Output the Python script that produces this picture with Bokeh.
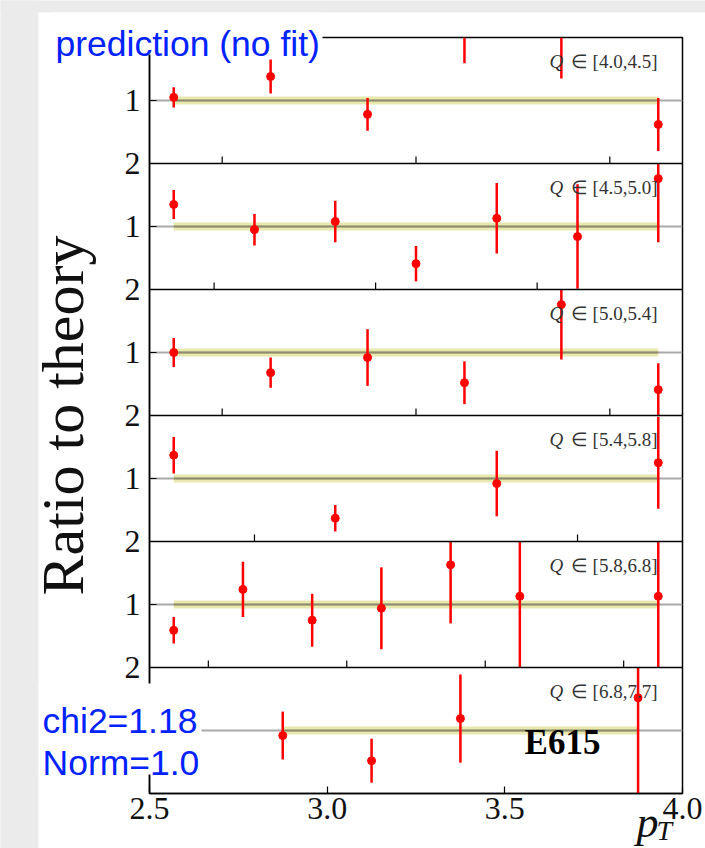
import numpy as np
from bokeh.plotting import figure
from bokeh.models import Range1d, FixedTicker, Span
from bokeh.core.properties import value
from bokeh.embed import file_html
from bokeh.resources import INLINE

# ---------------- data ----------------
q_bins = ["[4.0,4.5]", "[4.5,5.0]", "[5.0,5.4]", "[5.4,5.8]", "[5.8,6.8]", "[6.8,7.7]"]

pt_1 = [0.375, 0.625, 0.875, 1.125, 1.375, 1.625]
ratio_1 = [1.05, 1.38, 0.78, 2.30, 2.20, 0.62]
err_1 = [0.16, 0.27, 0.26, 0.71, 0.85, 0.42]

pt_2 = [0.375, 0.625, 0.875, 1.125, 1.375, 1.625, 1.875]
ratio_2 = [1.35, 0.95, 1.08, 0.41, 1.13, 0.84, 1.76]
err_2 = [0.23, 0.25, 0.33, 0.28, 0.56, 0.83, 1.01]

pt_3 = [0.375, 0.625, 0.875, 1.125, 1.375, 1.625]
ratio_3 = [1.00, 0.68, 0.92, 0.52, 1.76, 0.41]
err_3 = [0.23, 0.24, 0.45, 0.34, 0.87, 0.42]

pt_4 = [0.375, 0.625, 0.875, 1.125]
ratio_4 = [1.37, 0.37, 0.92, 1.25]
err_4 = [0.29, 0.21, 0.52, 0.73]

pt_5 = [0.375, 0.625, 0.875, 1.125, 1.375, 1.625, 2.125]
ratio_5 = [0.59, 1.24, 0.75, 0.94, 1.63, 1.13, 1.13]
err_5 = [0.21, 0.44, 0.42, 0.65, 0.93, 1.30, 1.40]

pt_6 = [2.875, 3.125, 3.375, 3.875]
ratio_6 = [0.92, 0.52, 1.19, 1.52]
err_6 = [0.38, 0.35, 0.70, 1.60]

theory_ratio = 1.0
theory_unc = 0.065
x_limits_last = (2.5, 4.0)
x_ticks_last = [2.5, 3.0, 3.5, 4.0]
y_limits = (0.0, 2.0)
chi2_text = "chi2=1.18"
norm_text = "Norm=1.0"
title_text = "prediction (no fit)"
exp_text = "E615"
y_label = "Ratio to theory"

panels = [
    (pt_1, ratio_1, err_1),
    (pt_2, ratio_2, err_2),
    (pt_3, ratio_3, err_3),
    (pt_4, ratio_4, err_4),
    (pt_5, ratio_5, err_5),
    (pt_6, ratio_6, err_6),
]
n = len(panels)
span_y = y_limits[1] - y_limits[0]

# ---------------- figure ----------------
W, H = 705, 848
FL, FR, FT, FB = 149, 682, 37, 793
YMAX = n * span_y
p = figure(width=W, height=H, output_backend="svg", toolbar_location=None,
           x_range=Range1d(*x_limits_last), y_range=Range1d(0, YMAX),
           min_border_left=FL, min_border_right=W - FR, min_border_top=FT,
           min_border_bottom=H - FB)
p.grid.visible = False
p.outline_line_color = "black"
p.outline_line_width = 1.5
p.background_fill_color = "white"
p.border_fill_color = "white"


def px(X, Y):
    """page pixel -> default data coordinates (for text placement)"""
    xa, xb = x_limits_last
    return xa + (X - FL) / (FR - FL) * (xb - xa), (FB - Y) / (FB - FT) * YMAX


serif = "Liberation Serif"
sans = "Liberation Sans"

# axes
p.xaxis.ticker = FixedTicker(ticks=x_ticks_last)
p.xaxis.major_label_overrides = {t: f"{t:.1f}" for t in x_ticks_last}
p.yaxis.ticker = FixedTicker(ticks=list(range(1, n * 2 + 1)))
p.yaxis.major_label_overrides = {i: ("1" if i % 2 else "2") for i in range(1, n * 2 + 1)}
for ax in (p.xaxis[0], p.yaxis[0]):
    ax.major_tick_in = 7
    ax.major_tick_out = 0
    ax.minor_tick_in = 0
    ax.minor_tick_out = 0
    ax.axis_line_width = 1.5
    ax.major_tick_line_width = 1.2
    ax.major_label_text_font = serif
    ax.major_label_text_font_size = "32px"
    ax.major_label_text_color = "#111111"
p.xaxis.major_label_standoff = 4
p.yaxis.major_label_standoff = 9
p.yaxis.axis_label = y_label
p.yaxis.axis_label_text_font = serif
p.yaxis.axis_label_text_font_size = "60px"
p.yaxis.axis_label_text_font_style = "normal"
p.yaxis.axis_label_text_color = "#111111"
p.yaxis.axis_label_standoff = 26

for k, (xs, ys, es) in enumerate(panels):
    xs = np.asarray(xs, float)
    ys = np.asarray(ys, float)
    es = np.asarray(es, float)
    if k == n - 1:
        lo, hi = x_limits_last
    else:
        d = xs.max() - xs.min()
        lo, hi = xs.min() - 0.05 * d, xs.max() + 0.05 * d
    xr, yr = f"x{k}", f"y{k}"
    p.extra_x_ranges[xr] = Range1d(lo, hi)
    off = (n - 1 - k) * span_y
    p.extra_y_ranges[yr] = Range1d(y_limits[0] - off, y_limits[0] - off + YMAX)

    # theory line (full width) and band
    p.segment(x0=[lo], y0=[theory_ratio], x1=[hi], y1=[theory_ratio],
              line_color="#a9a9a9", line_width=2.2, x_range_name=xr, y_range_name=yr)
    bx = [xs.min(), xs.max()]
    p.varea(x=bx, y1=[theory_ratio - theory_unc] * 2, y2=[theory_ratio + theory_unc] * 2,
            fill_color="#d9d97a", fill_alpha=0.6, x_range_name=xr, y_range_name=yr)
    p.segment(x0=[bx[0]], y0=[theory_ratio], x1=[bx[1]], y1=[theory_ratio],
              line_color="#8c8c6c", line_width=2.2, x_range_name=xr, y_range_name=yr)

    # inner bottom ticks for upper panels
    if k < n - 1:
        tks = np.arange(np.ceil(lo / 0.5) * 0.5, hi, 0.5)
        tl = span_y * 7 / ((FB - FT) / n)
        p.segment(x0=tks, y0=[y_limits[0]] * len(tks), x1=tks, y1=[y_limits[0] + tl] * len(tks),
                  line_color="black", line_width=1.2, x_range_name=xr, y_range_name=yr)
        p.add_layout(Span(location=off, dimension="width", line_color="black", line_width=1.5))

    # data with error bars (clipped to the panel)
    y0 = np.clip(ys - es, *y_limits)
    y1 = np.clip(ys + es, *y_limits)
    p.segment(x0=xs, y0=y0, x1=xs, y1=y1, line_color="red", line_width=2.5,
              x_range_name=xr, y_range_name=yr)
    inside = (ys >= y_limits[0]) & (ys <= y_limits[1])
    p.scatter(x=xs[inside], y=ys[inside], size=8, color="red",
              x_range_name=xr, y_range_name=yr)

    # Q label
    top_px = FT + k * (FB - FT) / n
    qx, qy = px(549, top_px + 24)
    rx, _ = px(657, 0)
    p.text(x=[qx], y=[qy], text=["Q"], text_font=value(serif), text_font_style="italic",
           text_font_size="19px", text_color="#333333", text_align="left",
           text_baseline="alphabetic")
    p.text(x=[rx], y=[qy], text=["\u2208 " + q_bins[k]], text_font=value(serif),
           text_font_size="19px", text_color="#333333", text_align="right",
           text_baseline="alphabetic")

# grey page strips and white text boxes (overlay level, drawn above the frame border)
sx0, sy0 = px(0, 0)
sx1, sy1 = px(38, H)
sx2, _ = px(W, 0)
_, sy3 = px(0, 12)
p.quad(left=[sx0, sx0], right=[sx1, sx2], top=[sy0, sy0], bottom=[sy1, sy3],
       fill_color="#ebebeb", line_color=None, level="overlay")
bl, bt = px(50, 12)
br, bb = px(322, 54)
cl, ct = px(38, 683)
cr, cb = px(201, 774)
p.quad(left=[bl, cl], right=[br, cr], top=[bt, ct], bottom=[bb, cb],
       fill_color="white", line_color=None, level="overlay")

tx, ty = px(55, 43)
p.text(x=[tx], y=[ty], text=[title_text], text_font=value(sans), text_font_size="35.5px",
       text_color="#0022ff", text_align="left", text_baseline="alphabetic", level="overlay")
c1x, c1y = px(42, 720)
c2x, c2y = px(42, 762)
p.text(x=[c1x, c2x], y=[c1y, c2y], text=[chi2_text, norm_text], text_font=value(sans),
       text_font_size="35.5px", text_color="#0022ff", text_align="left",
       text_baseline="alphabetic", level="overlay")
ex, ey = px(562, 742)
p.text(x=[ex], y=[ey], text=[exp_text], text_font=value(serif), text_font_style="bold",
       text_font_size="35px", text_color="black", text_align="center",
       text_baseline="alphabetic")
ppx, ppy = px(636, 822)
tpx, tpy = px(656, 830)
p.text(x=[ppx], y=[ppy], text=["p"], text_font=value(serif), text_font_style="italic",
       text_font_size="44px", text_color="#111111", text_align="left",
       text_baseline="alphabetic", level="overlay")
p.text(x=[tpx], y=[tpy], text=["T"], text_font=value(serif), text_font_style="italic",
       text_font_size="28px", text_color="#111111", text_align="left",
       text_baseline="alphabetic", level="overlay")

open("out.html", "w").write(file_html(p, INLINE))
